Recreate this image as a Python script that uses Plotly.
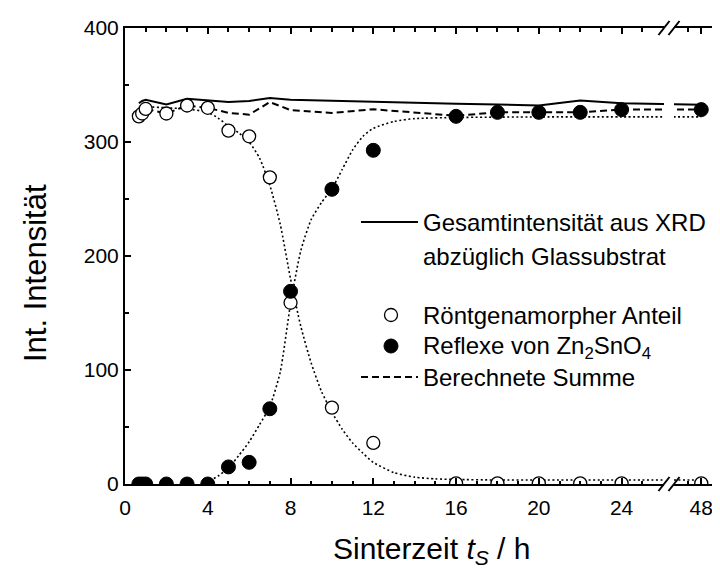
import plotly.graph_objects as go

# ---------------- data ----------------
# sintering times in hours
TIMES = [0.67, 0.83, 1, 2, 3, 4, 5, 6, 7, 8, 10, 12, 16, 18, 20, 22, 24, 48]
# X-ray amorphous part (open circles)
AMORPH = [322.5, 325, 329, 325, 332, 330, 310, 305, 269, 159, 67, 36,
          0.5, 0.5, 0.5, 0.5, 0.5, 0.5]
# reflections of Zn2SnO4 (filled circles)
CRYST = [0, 0, 0, 0, 0, 0, 15, 19, 66, 169, 258.5, 292.7,
         322.5, 326, 326, 326, 328.4, 328.4]
# total XRD intensity minus glass substrate (solid line)
TOTAL = [334, 336, 337, 333, 338, 336.5, 335, 336, 338.6, 337, 336, 335,
         333.5, 333, 332, 336.3, 334, 332.7]
# calculated sum (dashed line)
CALC_SUM = [322.5, 325, 329, 325, 332, 330, 325.5, 324, 335, 328, 325.5, 328.7,
            323, 326, 326, 326, 328.4, 328.4]

# fitted curves (dotted)
DECAY_T = [0.67, 1, 2, 3, 4, 4.5, 5, 5.5, 6, 6.5, 7, 7.5, 8, 8.5, 9, 9.5, 10,
           10.5, 11, 11.5, 12, 13, 14, 15, 16, 18, 20, 24, 48]
DECAY_V = [331, 331, 330, 329, 326, 321, 314, 308, 300, 286, 262, 228, 180,
           138, 106, 81, 63, 48, 36, 27, 19, 10, 6, 4.5, 4, 3.5, 3.5, 3.5, 3.5]
RISE_T = [3.7, 4, 4.5, 5, 5.5, 6, 6.5, 7, 7.5, 8, 8.5, 9, 9.5, 10, 10.5, 11,
          11.5, 12, 13, 14, 16, 20, 24, 48]
RISE_V = [0, 2, 7, 14, 25, 37, 52, 68, 98, 158, 205, 232, 247, 259, 276, 293,
          305, 312, 318, 320.5, 321.5, 322, 322, 322]

MAJOR_TICKS = [0, 4, 8, 12, 16, 20, 24, 48]
MAJOR_LABELS = ["0", "4", "8", "12", "16", "20", "24", "48"]
MINOR_TICKS = [1, 2, 3, 5, 6, 7, 9, 10, 11, 13, 14, 15, 17, 18, 19, 21, 22, 23,
               25, 47, 49]
Y_TICKS = [0, 100, 200, 300, 400]

# ---------------- broken x axis mapping ----------------
BREAK_START_H = 26.0   # last hour shown before the break
BREAK_END_H = 46.0     # first hour shown after the break
U_AFTER = 26.58        # axis position of BREAK_END_H
POST_SCALE = 0.635     # axis units per hour after the break
X_MAX_U = 28.9


def to_u(t):
    return t if t <= BREAK_START_H else U_AFTER + (t - BREAK_END_H) * POST_SCALE


def conv(ts):
    return [to_u(t) for t in ts]


FONT = "Liberation Sans, Arial, sans-serif"

# page geometry
W, H = 720, 568
ML, MR, MT, MB = 117, 5, 20, 92
PW, PH = W - ML - MR, H - MT - MB


def px(x):
    return (x - ML) / PW


def py(y):
    return (H - MB - y) / PH


fig = go.Figure()

fit_line = dict(color="black", width=1.6, dash="2px,2.5px", shape="spline", smoothing=0.6)
fig.add_trace(go.Scatter(x=conv(DECAY_T), y=DECAY_V, mode="lines", line=fit_line,
                         showlegend=False, hoverinfo="skip"))
fig.add_trace(go.Scatter(x=conv(RISE_T), y=RISE_V, mode="lines", line=fit_line,
                         showlegend=False, hoverinfo="skip"))
fig.add_trace(go.Scatter(x=conv(TIMES), y=TOTAL, mode="lines",
                         line=dict(color="black", width=2),
                         name="Gesamtintensität aus XRD abzüglich Glassubstrat", showlegend=False))
fig.add_trace(go.Scatter(x=conv(TIMES), y=CALC_SUM, mode="lines",
                         line=dict(color="black", width=2, dash="7px,4px"),
                         name="Berechnete Summe", showlegend=False))
fig.add_trace(go.Scatter(x=conv(TIMES), y=AMORPH, mode="markers",
                         marker=dict(symbol="circle", size=13, color="white",
                                     line=dict(color="black", width=1.3)),
                         name="Röntgenamorpher Anteil", showlegend=False))
fig.add_trace(go.Scatter(x=conv(TIMES), y=CRYST, mode="markers",
                         marker=dict(symbol="circle", size=14, color="black",
                                     line=dict(color="black", width=1)),
                         name="Reflexe von Zn2SnO4", showlegend=False))

axis_common = dict(showline=True, linecolor="black", linewidth=2, mirror="ticks",
                   ticks="inside", ticklen=6, tickwidth=1.5, tickcolor="black",
                   showgrid=False, zeroline=False, automargin=False,
                   tickfont=dict(family=FONT, size=21, color="black"))

fig.update_xaxes(range=[0, X_MAX_U], tickmode="array",
                 tickvals=conv(MAJOR_TICKS), ticktext=MAJOR_LABELS,
                 minor=dict(tickmode="array", tickvals=conv(MINOR_TICKS), ticks="inside",
                            ticklen=3.5, tickwidth=1.5, tickcolor="black"),
                 ticklabelstandoff=4,
                 **axis_common)
fig.update_yaxes(range=[0, 400], tickmode="array", tickvals=Y_TICKS,
                 minor=dict(dtick=50, ticks="inside", ticklen=3.5, tickwidth=1.5,
                            tickcolor="black"),
                 **axis_common)

shapes = []
# axis break: white gap plus "//" marks on top and bottom axes
bx0, bx1 = px(656), px(666)
shapes.append(dict(type="rect", xref="paper", yref="paper", x0=bx0, x1=bx1,
                   y0=-0.03, y1=1.03, fillcolor="white", line=dict(width=0), layer="above"))
dx, dy = 5.5 / PW, 7 / PH
for yy in (0, 1):
    for cx in (bx0, bx1):
        shapes.append(dict(type="line", xref="paper", yref="paper",
                           x0=cx - dx, x1=cx + dx, y0=yy - dy, y1=yy + dy,
                           line=dict(color="black", width=2), layer="above"))

# legend samples
shapes.append(dict(type="line", xref="paper", yref="paper", x0=px(353), x1=px(410),
                   y0=py(214), y1=py(214), line=dict(color="black", width=2)))
shapes.append(dict(type="line", xref="paper", yref="paper", x0=px(353), x1=px(410),
                   y0=py(369), y1=py(369), line=dict(color="black", width=2, dash="7px,4px")))
shapes.append(dict(type="circle", xref="paper", yref="paper", xsizemode="pixel",
                   ysizemode="pixel", xanchor=px(383), yanchor=py(307),
                   x0=-6.5, x1=6.5, y0=-6.5, y1=6.5, fillcolor="white",
                   line=dict(color="black", width=1.3)))
shapes.append(dict(type="circle", xref="paper", yref="paper", xsizemode="pixel",
                   ysizemode="pixel", xanchor=px(383), yanchor=py(338),
                   x0=-7, x1=7, y0=-7, y1=7, fillcolor="black",
                   line=dict(color="black", width=1)))

LEG_FONT = dict(family=FONT, size=24, color="black")
annotations = []
for text, yy in [("Gesamtintensität aus XRD", 214), ("abzüglich Glassubstrat", 248),
                 ("Röntgenamorpher Anteil", 307),
                 ("Reflexe von Zn<sub>2</sub>SnO<sub>4</sub>", 339),
                 ("Berechnete Summe", 369)]:
    annotations.append(dict(text=text, x=px(413), y=py(yy), xref="paper", yref="paper",
                            xanchor="left", yanchor="middle", showarrow=False,
                            font=LEG_FONT))

annotations.append(dict(text="Int. Intensität", x=px(27), y=py(265), xref="paper",
                        yref="paper", textangle=-90, showarrow=False,
                        xanchor="center", yanchor="middle",
                        font=dict(family=FONT, size=31, color="black")))
annotations.append(dict(text="Sinterzeit <i>t</i><sub><i>S</i></sub> / h", x=px(423), y=py(542),
                        xref="paper", yref="paper", showarrow=False,
                        xanchor="center", yanchor="middle",
                        font=dict(family=FONT, size=30, color="black")))

fig.update_layout(width=W, height=H, margin=dict(l=ML, r=MR, t=MT, b=MB),
                  paper_bgcolor="white", plot_bgcolor="white",
                  shapes=shapes, annotations=annotations, showlegend=False,
                  font=dict(family=FONT, color="black"))

fig.write_html("out.html")
